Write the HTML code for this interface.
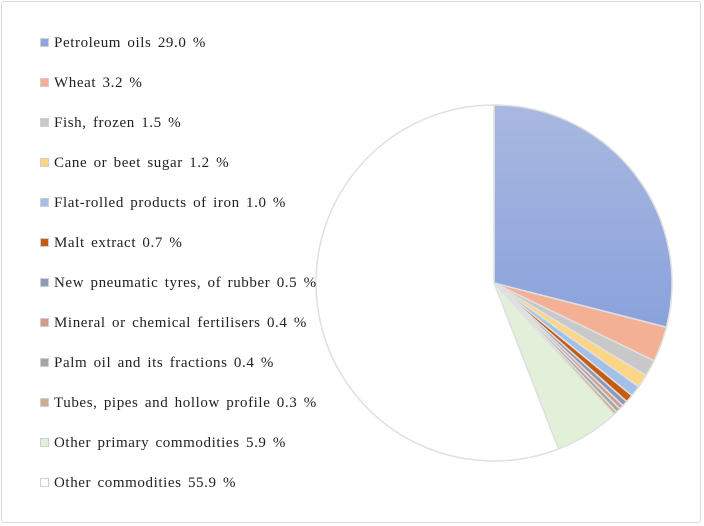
<!DOCTYPE html>
<html><head><meta charset="utf-8"><style>
body{margin:0;background:#fff;}
#c{position:relative;width:704px;height:526px;overflow:hidden;}
.frame{position:absolute;left:1px;top:1px;width:700px;height:522px;border:1px solid #d9d9d9;border-radius:3px;box-sizing:border-box;}
.lg{position:absolute;left:40px;font-family:"Liberation Serif",serif;font-size:15px;letter-spacing:0.6px;word-spacing:2px;color:#222;white-space:nowrap;line-height:16px;}
.lg span.m{display:inline-block;width:7px;height:7px;margin-right:5px;vertical-align:0px;border:1px solid #d0d0d0;}
</style></head><body>
<div id="c">
<div class="frame"></div>
<svg id="pie" width="704" height="526" style="position:absolute;left:0;top:0">
<defs><linearGradient id="g0" x1="0" y1="0" x2="0" y2="1"><stop offset="0" stop-color="#a9b8e0"/><stop offset="1" stop-color="#8aa2dc"/></linearGradient></defs>
</svg>
<div id="legend"></div>
</div>
<script>
const categories=["Petroleum oils 29.0 %","Wheat 3.2 %","Fish, frozen 1.5 %","Cane or beet sugar  1.2 %","Flat-rolled products of iron 1.0 %","Malt extract 0.7 %","New pneumatic tyres, of rubber 0.5 %","Mineral or chemical fertilisers 0.4 %","Palm oil and its fractions 0.4 %","Tubes, pipes and hollow profile 0.3 %","Other primary commodities 5.9 %","Other commodities 55.9 %"];
const values=[29.0,3.2,1.5,1.2,1.0,0.7,0.5,0.4,0.4,0.3,5.9,55.9];
const colors=["url(#g0)","#f4b094","#c8c8c8","#fdd685","#a3c0e8","#c55a11","#8e98b8","#cf9c8e","#a6a6a6","#c9b08c","#e2efd9","#ffffff"];
const legendColors=["#8fa5dc","#f4b094","#c8c8c8","#fdd685","#a3c0e8","#c55a11","#8e98b8","#cf9c8e","#a6a6a6","#c9b08c","#e2efd9","#ffffff"];
const cx=494,cy=283,r=178;
const svg=document.getElementById('pie');
const total=values.reduce((a,b)=>a+b,0);
let a0=0;
values.forEach((v,i)=>{
  const a1=a0+v/total*2*Math.PI;
  const x0=cx+r*Math.sin(a0),y0=cy-r*Math.cos(a0),x1=cx+r*Math.sin(a1),y1=cy-r*Math.cos(a1);
  const p=document.createElementNS('http://www.w3.org/2000/svg','path');
  p.setAttribute('d',`M${cx},${cy}L${x0},${y0}A${r},${r} 0 ${a1-a0>Math.PI?1:0} 1 ${x1},${y1}Z`);
  p.setAttribute('fill',colors[i]);
  p.setAttribute('stroke','#e0e0e0');
  p.setAttribute('stroke-width','1.5');
  
  
  svg.appendChild(p);
  a0=a1;
});
const lg=document.getElementById('legend');
categories.forEach((c,i)=>{
  const d=document.createElement('div');
  d.className='lg';
  d.style.top=(35+i*40)+'px';
  d.innerHTML='<span class="m" style="background:'+legendColors[i]+'"></span>'+c;
  
  
  lg.appendChild(d);
});
</script>
</body></html>
